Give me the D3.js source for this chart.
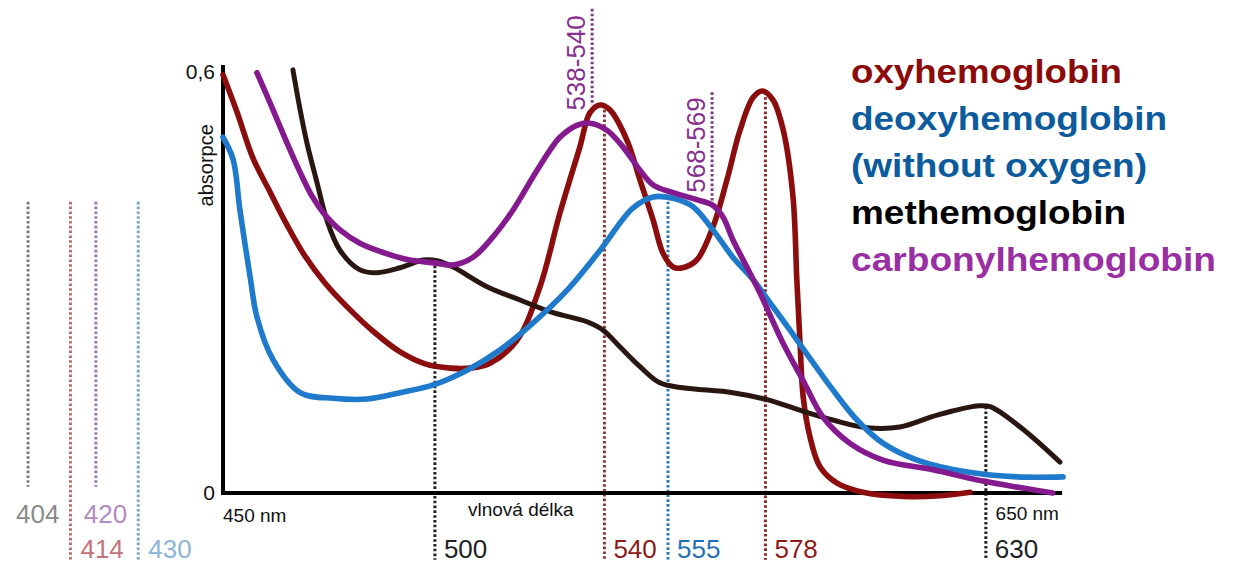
<!DOCTYPE html>
<html><head><meta charset="utf-8">
<script src="https://cdn.jsdelivr.net/npm/d3@7"></script>
<style>
html,body{margin:0;padding:0;background:#fff;}
svg{display:block;font-family:"Liberation Sans",Arial,Helvetica,sans-serif;}
</style></head>
<body><svg id="c" width="1238" height="565"></svg>
<script>
// ---- data (wavelength nm, absorbance) ----
const oxyhemoglobin = [[450,0.596],[453.3,0.543],[457.1,0.477],[461.1,0.429],[465.1,0.382],[469.3,0.338],[474.1,0.299],[480,0.261],[485.9,0.228],[491.8,0.201],[497.7,0.184],[503.6,0.178],[508.3,0.178],[513,0.185],[519.4,0.218],[524.8,0.294],[529.5,0.399],[534.2,0.493],[536.6,0.542],[539,0.553],[541.3,0.546],[545.3,0.503],[548.4,0.446],[551.5,0.389],[553.8,0.342],[556.2,0.322],[558.5,0.321],[561.8,0.332],[565.6,0.379],[568.9,0.446],[572,0.517],[575.1,0.564],[577.3,0.573],[579.8,0.560],[582.2,0.517],[584.5,0.422],[585.4,0.304],[586.2,0.208],[586.9,0.137],[588.5,0.080],[590.9,0.037],[594.9,0.014],[601,0.001],[610.5,-0.005],[619.2,-0.004],[626.3,0.001]];
const deoxyhemoglobin = [[450,0.507],[452.4,0.475],[454,0.403],[456.4,0.308],[458,0.251],[461.8,0.190],[468.2,0.143],[476,0.135],[484,0.134],[491.8,0.143],[499.6,0.154],[507.6,0.175],[515.4,0.204],[523.1,0.242],[531.2,0.289],[539,0.346],[546.7,0.406],[551.5,0.422],[556.2,0.420],[560.9,0.408],[565.6,0.375],[570.3,0.336],[575.1,0.304],[579.1,0.271],[583.8,0.232],[588.5,0.192],[593.9,0.147],[599.6,0.104],[605.7,0.071],[613.8,0.047],[625.6,0.030],[637.4,0.023],[648.2,0.023]];
const methemoglobin = [[466.5,0.603],[468.2,0.546],[469.8,0.499],[472.2,0.442],[474.5,0.389],[477.6,0.346],[482.3,0.318],[486.3,0.314],[491.8,0.321],[497.2,0.332],[500.5,0.331],[504.3,0.322],[512.3,0.294],[520.1,0.275],[527.9,0.257],[535.9,0.244],[539.7,0.232],[543.7,0.208],[548.4,0.180],[553.1,0.157],[558.5,0.150],[570.3,0.143],[578.4,0.133],[586.1,0.118],[593.9,0.104],[602,0.093],[609.7,0.094],[618.5,0.111],[627.9,0.124],[631,0.123],[638.1,0.094],[647.5,0.044]];
const carbonylhemoglobin = [[458,0.599],[461.6,0.549],[465.1,0.499],[468.2,0.457],[471,0.423],[474.1,0.396],[477.6,0.375],[482.3,0.356],[488.2,0.342],[494.1,0.332],[500,0.328],[504.3,0.325],[509,0.336],[513.7,0.365],[518.4,0.403],[523.1,0.450],[527.2,0.489],[529.5,0.507],[533.5,0.524],[536.6,0.527],[540.6,0.517],[544.4,0.493],[548.4,0.460],[551.5,0.439],[556.2,0.428],[561.8,0.418],[565.6,0.410],[568,0.393],[570.3,0.361],[573.6,0.322],[576.7,0.285],[582.1,0.214],[586.9,0.160],[591.6,0.108],[597.9,0.071],[605.7,0.047],[617.5,0.033],[629.3,0.017],[638.8,0.007],[645.8,0.000]];

const seriesNames = ["oxyhemoglobin","deoxyhemoglobin","methemoglobin","carbonylhemoglobin"];
const legendLines = ["oxyhemoglobin","deoxyhemoglobin","(without oxygen)","methemoglobin","carbonylhemoglobin"];

// bottom peak markers: [wavelength, label, top absorbance]
const peakMarkers = [[500,"500",0.331],[540,"540",0.553],[555,"555",0.422],[578,"578",0.571],[630,"630",0.123]];
// Soret band markers left of axis: [wavelength, label, long line?]
const soretMarkers = [[404,"404",false],[414,"414",true],[420,"420",false],[430,"430",true]];
// carbonyl peak markers: [wavelength, label, bottom absorbance]
const coMarkers = [[537.1,"538-540",0.553],[565.4,"568-569",0.41]];
const yTicks = [[0,"0"],[0.6,"0,6"]];

// ---- styling ----
const curveColor = {oxyhemoglobin:"#8c0d0d",deoxyhemoglobin:"#1f7acb",methemoglobin:"#2a1611",carbonylhemoglobin:"#85198e"};
const legendColor = ["#8b0a0a","#0b5b9d","#0b5b9d","#000000","#9a2fa4"];
const legendWidth = [271,316,296,275,365];
const peakColor = {"500":"#222","540":"#8b1a1a","555":"#1f6fb5","578":"#8b1a1a","630":"#222"};
const peakDot = {"500":"#222","540":"#8a3838","555":"#2f78b2","578":"#8a2a2a","630":"#222"};
const soretText = {"404":"#8a8a8a","414":"#c2727c","420":"#b38ac2","430":"#8fb4d6"};
const soretDot = {"404":"#7b7b7b","414":"#b57272","420":"#9c75ab","430":"#7aa6c8"};

const svg = d3.select("#c");
const x = d3.scaleLinear().domain([450,650]).range([223,1070.6]);
const y = d3.scaleLinear().domain([0,0.6]).range([493,72]);

// dotted marker lines
const dot = (sel)=>sel.attr("stroke-width",3).attr("stroke-dasharray","2.6,2.2");
soretMarkers.forEach(([w,l,long])=>{
  svg.append("line").attr("x1",x(w)).attr("x2",x(w)).attr("y1",y(0.415)).attr("y2",long?y(-0.095):y(0.009))
    .attr("stroke",soretDot[l]).call(dot);
  svg.append("text").attr("x",long?x(w)+10:x(w)-12).attr("y",long?y(-0.092):y(-0.043))
    .attr("font-size",26).attr("fill",soretText[l]).text(l);
});
peakMarkers.forEach(([w,l,top])=>{
  svg.append("line").attr("x1",x(w)).attr("x2",x(w)).attr("y1",y(top)).attr("y2",y(-0.095))
    .attr("stroke",peakDot[l]).call(dot);
  svg.append("text").attr("x",x(w)+9).attr("y",y(-0.092)).attr("font-size",26).attr("fill",peakColor[l]).text(l);
});
coMarkers.forEach(([w,l,bot])=>{
  svg.append("line").attr("x1",x(w)).attr("x2",x(w)).attr("y1",l==="538-540"?y(0.69):y(0.571)).attr("y2",y(bot))
    .attr("stroke","#7a3a86").call(dot);
  const ty = l==="538-540"?y(0.545):y(0.428);
  svg.append("text").attr("transform",`translate(${x(w)-7},${ty}) rotate(-90)`)
    .attr("font-size",26).attr("fill","#86308f").text(l);
});

// axes
svg.append("line").attr("x1",x(450)).attr("x2",x(450)).attr("y1",y(0.61)).attr("y2",y(0)+2)
  .attr("stroke","#000").attr("stroke-width",4);
svg.append("line").attr("x1",x(450)-2).attr("x2",x(648)).attr("y1",y(0)).attr("y2",y(0))
  .attr("stroke","#000").attr("stroke-width",4);
yTicks.forEach(([v,l])=>{
  svg.append("text").attr("x",x(450)-8).attr("y",y(v)+7).attr("text-anchor","end")
    .attr("font-size",21).attr("fill","#111").text(l);
});
svg.append("text").attr("transform",`translate(${x(450)-10},${y(0.467)}) rotate(-90)`)
  .attr("text-anchor","middle").attr("font-size",20).attr("fill","#111").text("absorpce");
svg.append("text").attr("x",x(450)).attr("y",y(-0.041)).attr("font-size",19).attr("fill","#111").text("450 nm");
svg.append("text").attr("x",x(507.8)).attr("y",y(-0.033)).attr("font-size",19).attr("fill","#111").text("vlnová délka");
svg.append("text").attr("x",x(632.3)).attr("y",y(-0.038)).attr("font-size",19).attr("fill","#111").text("650 nm");

// curves
const line = d3.line().x(d=>x(d[0])).y(d=>y(d[1])).curve(d3.curveCatmullRom.alpha(0.5));
const dataMap = {oxyhemoglobin,deoxyhemoglobin,methemoglobin,carbonylhemoglobin};
["oxyhemoglobin","methemoglobin","deoxyhemoglobin","carbonylhemoglobin"].forEach(n=>{
  svg.append("path").attr("d",line(dataMap[n])).attr("fill","none")
    .attr("stroke",curveColor[n]).attr("stroke-width",n==="methemoglobin"?5:5.6)
    .attr("stroke-linecap","round").attr("stroke-linejoin","round");
});

// legend
legendLines.forEach((t,i)=>{
  svg.append("text").attr("x",851).attr("y",83+i*47).attr("font-size",33).attr("font-weight","bold")
    .attr("fill",legendColor[i]).attr("textLength",legendWidth[i]).attr("lengthAdjust","spacingAndGlyphs").text(t);
});
</script></body></html>
